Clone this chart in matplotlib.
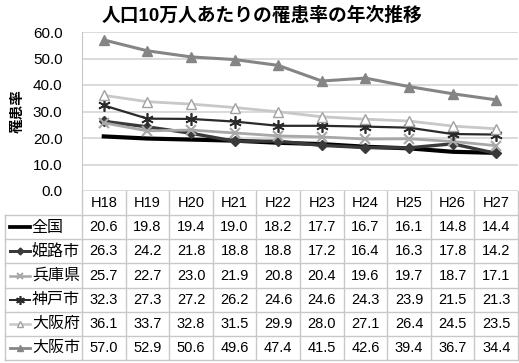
import matplotlib.pyplot as plt

plt.rcParams['font.family'] = ['Liberation Sans', 'Noto Sans CJK JP']

# 年度と地域別の罹患率（人口10万人あたり）
years = ['H18', 'H19', 'H20', 'H21', 'H22', 'H23', 'H24', 'H25', 'H26', 'H27']
areas = ['全国', '姫路市', '兵庫県', '神戸市', '大阪府', '大阪市']
zenkoku = [20.6, 19.8, 19.4, 19.0, 18.2, 17.7, 16.7, 16.1, 14.8, 14.4]
himeji = [26.3, 24.2, 21.8, 18.8, 18.8, 17.2, 16.4, 16.3, 17.8, 14.2]
hyogo = [25.7, 22.7, 23.0, 21.9, 20.8, 20.4, 19.6, 19.7, 18.7, 17.1]
kobe = [32.3, 27.3, 27.2, 26.2, 24.6, 24.6, 24.3, 23.9, 21.5, 21.3]
osaka_fu = [36.1, 33.7, 32.8, 31.5, 29.9, 28.0, 27.1, 26.4, 24.5, 23.5]
osaka_shi = [57.0, 52.9, 50.6, 49.6, 47.4, 41.5, 42.6, 39.4, 36.7, 34.4]
values = [zenkoku, himeji, hyogo, kobe, osaka_fu, osaka_shi]

# 系列ごとの線と記号
styles = [
    dict(color='#000000', lw=3.0, marker=None),
    dict(color='#3a3a3a', lw=2.4, marker='D', ms=5, mfc='#3a3a3a', mec='#3a3a3a'),
    dict(color='#a8a8a8', lw=2.0, marker='x', ms=7, mew=1.5, mec='#a8a8a8'),
    dict(color='#2a2a2a', lw=1.6, marker=(6, 2, 0), ms=9, mew=1.2, mec='#2a2a2a'),
    dict(color='#c8c8c8', lw=2.0, marker='^', ms=7, mfc='white', mec='#a0a0a0', mew=1.0),
    dict(color='#858585', lw=2.2, marker='^', ms=7, mfc='#858585', mec='#858585'),
]

W, H = 519, 363
fig = plt.figure(figsize=(W / 100, H / 100), dpi=100)

left = 82 / W
right = 518 / W
ax = fig.add_axes([left, 1 - 191 / H, right - left, (191 - 32) / H])
x = list(range(len(years)))
for vals, st in zip(values, styles):
    ax.plot(x, vals, color=st['color'], lw=st['lw'], marker=st['marker'],
            ms=st.get('ms', 0), mfc=st.get('mfc', 'none'), mec=st.get('mec', st['color']),
            mew=st.get('mew', 1.0), zorder=3)

ax.set_xlim(-0.5, 9.5)
ax.set_ylim(0, 60)
ax.set_yticks(range(0, 61, 10))
ax.set_yticklabels([f'{v:.1f}' for v in range(0, 61, 10)], fontsize=11)
ax.tick_params(axis='y', length=0, pad=14)
ax.set_xticks([])
ax.grid(axis='y', color='#d4d4d4', lw=1.2)
ax.set_axisbelow(True)
for side in ['top', 'right', 'bottom']:
    ax.spines[side].set_visible(False)
ax.spines['left'].set_color('#c8c8c8')
ax.set_ylabel('罹患率', fontsize=10.5, fontweight='bold', labelpad=6)

fig.text(0.505, 1 - 16 / H, '人口10万人あたりの罹患率の年次推移',
         ha='center', va='center', fontsize=13.5, fontweight='bold')

# データテーブル
tab = fig.add_axes([left, 1 - 360 / H, right - left, (360 - 191) / H])
tab.set_xlim(-0.5, 9.5)
tab.set_ylim(7, 0)
tab.axis('off')
x0 = -2.26
grid_c = '#c8c8c8'
for i in range(11):
    tab.plot([i - 0.5, i - 0.5], [0, 7], color=grid_c, lw=1, clip_on=False)
tab.plot([x0, x0], [1, 7], color=grid_c, lw=1, clip_on=False)
for r in range(1, 8):
    tab.plot([x0, 9.5], [r, r], color=grid_c, lw=1, clip_on=False)

for i, y in enumerate(years):
    tab.text(i, 0.5, y, ha='center', va='center', fontsize=10.5)

for r, (name, vals, st) in enumerate(zip(areas, values, styles), start=1):
    yc = r + 0.5
    tab.plot([-2.15, -1.69], [yc, yc], color=st['color'], lw=st['lw'] * 0.9,
             clip_on=False)
    if st['marker'] is not None:
        tab.plot([-1.92], [yc], marker=st['marker'], ms=st.get('ms', 0) * 0.7,
                 mfc=st.get('mfc', 'none'), mec=st.get('mec', st['color']),
                 mew=st.get('mew', 1.0), clip_on=False)
    tab.text(-1.65, yc, name, ha='left', va='center', fontsize=11.5)
    for i, v in enumerate(vals):
        tab.text(i, yc, f'{v:.1f}', ha='center', va='center', fontsize=10.5)

fig.savefig('out.png', dpi=100)
